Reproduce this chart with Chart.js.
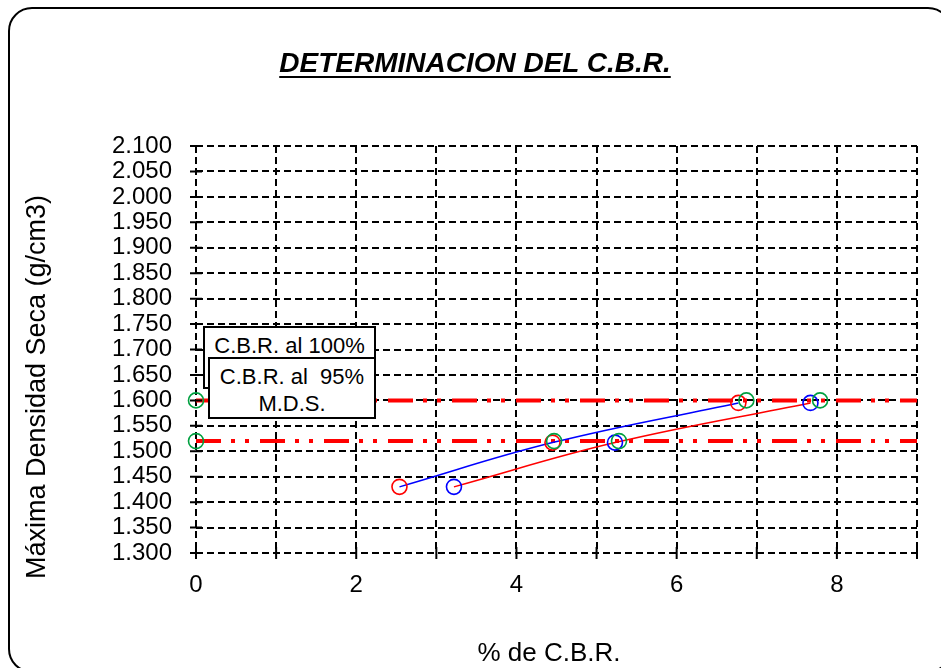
<!DOCTYPE html>
<html>
<head>
<meta charset="utf-8">
<script src="https://cdn.jsdelivr.net/npm/chart.js@4.4.1/dist/chart.umd.min.js"></script>
<style>
  html, body { margin: 0; padding: 0; background: #fff; }
  body { width: 941px; height: 668px; position: relative; overflow: hidden; font-family: "Liberation Sans", Arial, sans-serif; }
  #wrap { position: absolute; left: 0; top: 0; width: 941px; height: 668px; }
  #frame { position: absolute; left: 8px; top: 7px; width: 940px; height: 662px; border: 2px solid #000; border-radius: 24px; pointer-events: none; }
  #title { position: absolute; left: 0; top: 49px; width: 950px; text-align: center; font: italic bold 28px/28px "Liberation Sans", Arial, sans-serif; text-decoration: underline; text-decoration-thickness: 2px; text-underline-offset: 4px; color: #000; }
  #ytitle { position: absolute; left: -214px; top: 372px; width: 500px; text-align: center; font: 27px/30px "Liberation Sans", Arial, sans-serif; color: #000; transform: rotate(-90deg); white-space: nowrap; }
  #xtitle { position: absolute; left: 349px; top: 639px; width: 400px; text-align: center; font: 26px/26px "Liberation Sans", Arial, sans-serif; color: #000; white-space: nowrap; }
  .box { position: absolute; background: #fff; border: 2px solid #000; box-sizing: border-box; text-align: center; color: #000; font: 22px/27px "Liberation Sans", Arial, sans-serif; white-space: pre; }
  #box1 { left: 203px; top: 326px; width: 173px; height: 63px; padding-top: 4px; }
  #box2 { left: 208px; top: 357px; width: 168px; height: 62px; padding-top: 4px; }
</style>
</head>
<body>
<div id="wrap"><canvas id="c" width="941" height="668"></canvas></div>
<div id="frame"></div>
<div id="title">DETERMINACION DEL C.B.R.</div>
<div id="ytitle">Máxima Densidad Seca (g/cm3)</div>
<div id="xtitle">% de C.B.R.</div>
<div class="box" id="box1">C.B.R. al 100%</div>
<div class="box" id="box2">C.B.R. al  95%
M.D.S.</div>
<script>
// ---- data ----
const cbrA = [2.54, 4.45, 6.77];          // red circles, blue line
const densA = [1.430, 1.517, 1.595];
const cbrB = [3.22, 5.23, 7.67];          // blue circles, red line
const densB = [1.430, 1.517, 1.595];
const refCbr = [0, 0, 4.47, 5.28, 6.87, 7.79];   // green reference circles
const refDens = [1.600, 1.520, 1.520, 1.520, 1.600, 1.600];
const mdsLevels = [1.600, 1.520];          // C.B.R. al 100% / 95% M.D.S.
const xRange = [0, 9];
const yRange = [1.300, 2.100];
const yStep = 0.05;
const xStep = 1;

const toPts = (xs, ys) => xs.map((x, i) => ({x: x, y: ys[i]}));

const FONT = '"Liberation Sans", Arial, sans-serif';

const crossTicks = {
  id: 'crossTicks',
  afterDatasetsDraw(chart) {
    const ctx = chart.ctx;
    const xs = chart.scales.x, ys = chart.scales.y;
    const x0 = xs.getPixelForValue(xRange[0]);
    const y0 = ys.getPixelForValue(yRange[0]);
    ctx.save();
    ctx.strokeStyle = '#000';
    ctx.lineWidth = 2;
    ctx.setLineDash([]);
    ctx.beginPath();
    ys.ticks.forEach(t => {
      const py = ys.getPixelForValue(t.value);
      ctx.moveTo(x0 - 6, py); ctx.lineTo(x0 + 6, py);
    });
    xs.ticks.forEach(t => {
      const px = xs.getPixelForValue(t.value);
      ctx.moveTo(px, y0 - 6); ctx.lineTo(px, y0 + 6);
    });
    ctx.stroke();
    ctx.restore();
  }
};

const hLine = (v) => ({
  type: 'line',
  data: [{x: xRange[0], y: v}, {x: xRange[1], y: v}],
  borderColor: '#ff0000',
  borderWidth: 4,
  borderDash: [25, 10, 4, 10, 4, 11],
  borderCapStyle: 'butt',
  pointRadius: 0,
  fill: false,
  order: 5
});

new Chart(document.getElementById('c'), {
  type: 'scatter',
  data: {
    datasets: [
      {
        data: toPts(refCbr, refDens),
        showLine: false,
        pointStyle: 'circle',
        pointRadius: 7.5,
        pointBorderWidth: 1.6,
        pointBorderColor: '#00a040',
        pointBackgroundColor: 'rgba(0,0,0,0)',
        clip: false,
        order: 0
      },
      {
        type: 'line',
        data: toPts(cbrA, densA),
        borderColor: '#0000ff',
        borderWidth: 1.5,
        tension: 0.4,
        fill: false,
        pointRadius: 7.5,
        pointBorderWidth: 1.6,
        pointBorderColor: '#ff0000',
        pointBackgroundColor: 'rgba(0,0,0,0)',
        clip: false,
        order: 1
      },
      {
        type: 'line',
        data: toPts(cbrB, densB),
        borderColor: '#ff0000',
        borderWidth: 1.5,
        tension: 0.4,
        fill: false,
        pointRadius: 7.5,
        pointBorderWidth: 1.6,
        pointBorderColor: '#0000ff',
        pointBackgroundColor: 'rgba(0,0,0,0)',
        clip: false,
        order: 2
      },
      hLine(mdsLevels[0]),
      hLine(mdsLevels[1])
    ]
  },
  options: {
    responsive: false,
    animation: false,
    events: [],
    layout: { padding: { top: 146, right: 24, left: 0, bottom: 0 } },
    plugins: { legend: { display: false }, title: { display: false }, tooltip: { enabled: false } },
    scales: {
      x: {
        type: 'linear',
        min: xRange[0], max: xRange[1],
        afterFit(s) { s.height = 115; },
        ticks: {
          stepSize: xStep,
          color: '#000',
          font: { family: FONT, size: 24 },
          padding: 18,
          maxRotation: 0,
          autoSkip: false,
          callback: (v) => (Math.round(v) % 2 === 0 ? String(Math.round(v)) : '')
        },
        grid: { color: '#000', lineWidth: 2, drawTicks: false },
        border: { display: false, dash: [7, 4] },
        title: { display: false }
      },
      y: {
        type: 'linear',
        min: yRange[0], max: yRange[1],
        afterFit(s) { s.width = 196; },
        afterBuildTicks(s) {
          const t = [];
          for (let i = 0; i <= Math.round((yRange[1] - yRange[0]) / yStep); i++) t.push({ value: +(yRange[0] + i * yStep).toFixed(3) });
          s.ticks = t;
        },
        ticks: {
          color: '#000',
          font: { family: FONT, size: 24 },
          padding: 24,
          autoSkip: false,
          callback: (v) => Number(v).toFixed(3)
        },
        grid: { color: '#000', lineWidth: 2, drawTicks: false },
        border: { display: false, dash: [7, 4] },
        title: { display: false }
      }
    }
  },
  plugins: [crossTicks]
});
</script>
</body>
</html>
